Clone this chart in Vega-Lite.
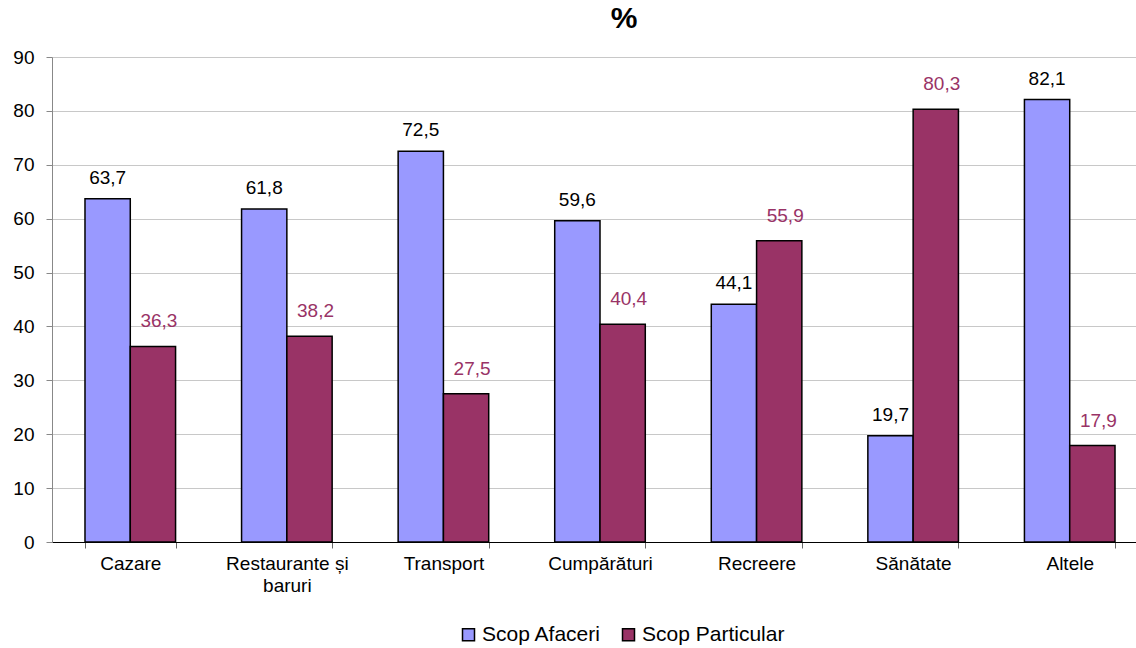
{
  "$schema": "https://vega.github.io/schema/vega-lite/v6.json",
  "width": 1096,
  "height": 485,
  "autosize": {"type": "none"},
  "padding": {"left": 52, "top": 57, "right": -12, "bottom": 106},
  "title": {"text": "%", "fontSize": 30, "font": "Liberation Sans", "fontWeight": "bold", "color": "#000000", "dx": 24, "offset": 14, "anchor": "middle"},
  "config": {
    "locale": {"number": {"decimal": ",", "thousands": ".", "grouping": [3], "currency": ["", ""]}},
    "view": {"stroke": null},
    "font": "Liberation Sans"
  },
  "data": {
    "values": [
      {"categorie": "Cazare", "scop": "Scop Afaceri", "valoare": 63.7},
      {"categorie": "Cazare", "scop": "Scop Particular", "valoare": 36.3},
      {"categorie": "Restaurante și baruri", "scop": "Scop Afaceri", "valoare": 61.8},
      {"categorie": "Restaurante și baruri", "scop": "Scop Particular", "valoare": 38.2},
      {"categorie": "Transport", "scop": "Scop Afaceri", "valoare": 72.5},
      {"categorie": "Transport", "scop": "Scop Particular", "valoare": 27.5},
      {"categorie": "Cumpărături", "scop": "Scop Afaceri", "valoare": 59.6},
      {"categorie": "Cumpărături", "scop": "Scop Particular", "valoare": 40.4},
      {"categorie": "Recreere", "scop": "Scop Afaceri", "valoare": 44.1},
      {"categorie": "Recreere", "scop": "Scop Particular", "valoare": 55.9},
      {"categorie": "Sănătate", "scop": "Scop Afaceri", "valoare": 19.7},
      {"categorie": "Sănătate", "scop": "Scop Particular", "valoare": 80.3},
      {"categorie": "Altele", "scop": "Scop Afaceri", "valoare": 82.1},
      {"categorie": "Altele", "scop": "Scop Particular", "valoare": 17.9}
    ]
  },
  "encoding": {
    "x": {
      "field": "categorie", "type": "nominal", "sort": null, "title": null,
      "scale": {"paddingInner": 0.4215, "paddingOuter": 0.2107},
      "axis": {
        "labelAngle": 0, "labelFontSize": 19, "labelColor": "#000000", "labelPadding": 6,
        "labelExpr": "datum.label == 'Restaurante și baruri' ? ['Restaurante și', 'baruri'] : datum.label",
        "tickBand": "extent", "tickSize": 6, "tickColor": "#666666", "domainColor": "#000000", "domainWidth": 1.2,
        "grid": false, "labelLineHeight": 22, "labelLimit": 300
      }
    },
    "xOffset": {"field": "scop", "type": "nominal", "scale": {"paddingInner": 0}},
    "y": {
      "field": "valoare", "type": "quantitative", "title": null,
      "scale": {"domain": [0, 90]},
      "axis": {
        "values": [0, 10, 20, 30, 40, 50, 60, 70, 80, 90],
        "labelFontSize": 19, "labelColor": "#000000", "labelPadding": 12,
        "domainColor": "#888888", "tickColor": "#888888", "tickSize": 6,
        "gridColor": "#c8c8c8", "gridWidth": 1
      }
    }
  },
  "layer": [
    {
      "mark": {"type": "bar", "stroke": "#000000", "strokeWidth": 1.5},
      "encoding": {
        "color": {
          "field": "scop", "type": "nominal", "title": null,
          "scale": {"domain": ["Scop Afaceri", "Scop Particular"], "range": ["#9999FF", "#993366"]},
          "legend": {
            "orient": "none", "legendX": 406, "legendY": 567, "direction": "horizontal",
            "symbolType": "square", "symbolSize": 144,
            "symbolStrokeColor": "#000000", "symbolStrokeWidth": 1.5, "labelFontSize": 21,
            "labelColor": "#000000", "columnPadding": 16, "labelOffset": 3
          }
        }
      }
    },
    {
      "transform": [{"filter": "datum.scop == 'Scop Afaceri'"}],
      "mark": {"type": "text", "baseline": "alphabetic", "dy": -15, "fontSize": 19, "color": "#000000"},
      "encoding": {
        "text": {"field": "valoare", "type": "quantitative", "format": ".1f"}
      }
    },
    {
      "transform": [{"filter": "datum.scop == 'Scop Particular'"}],
      "mark": {"type": "text", "baseline": "alphabetic", "dy": -19, "dx": 6, "fontSize": 19, "color": "#993366"},
      "encoding": {
        "text": {"field": "valoare", "type": "quantitative", "format": ".1f"}
      }
    }
  ]
}
